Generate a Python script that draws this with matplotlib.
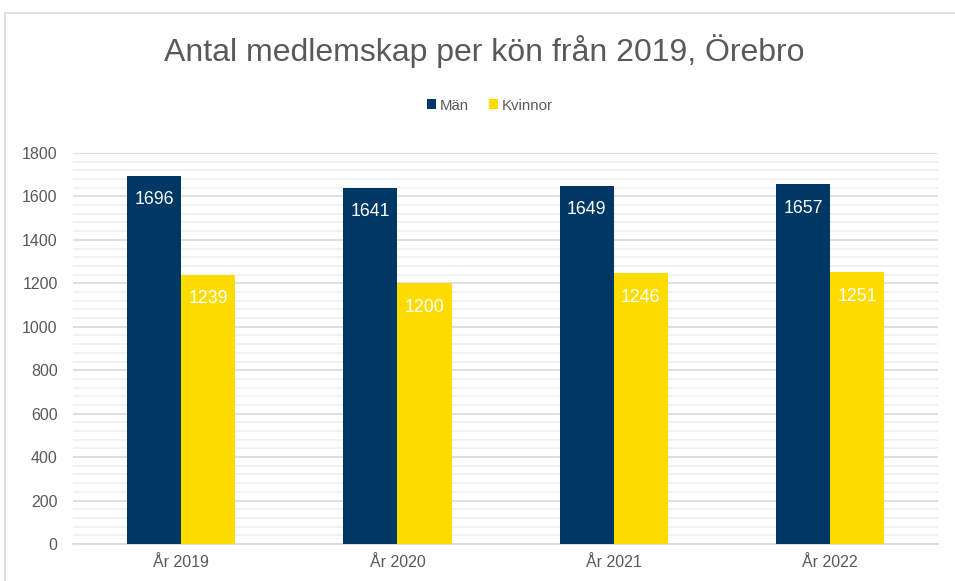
import matplotlib.pyplot as plt
import numpy as np
from matplotlib.patches import Rectangle
from matplotlib.ticker import MultipleLocator

plt.rcParams["font.family"] = ["Liberation Sans", "DejaVu Sans"]

years = ["År 2019", "År 2020", "År 2021", "År 2022"]
man = [1696, 1641, 1649, 1657]
kvinnor = [1239, 1200, 1246, 1251]

MAN_COLOR = "#003865"
KVINNOR_COLOR = "#FFDC00"
TEXT = "#595959"
MAJOR_GRID = "#d9d9d9"
MINOR_GRID = "#f0f0f0"

fig = plt.figure(figsize=(9.55, 5.81), dpi=100)
ax = fig.add_axes([0.0764, 0.0637, 0.906, 0.673])

x = np.arange(len(years))
w = 0.25
b1 = ax.bar(x - w / 2, man, w, color=MAN_COLOR, label="Män", zorder=3)
b2 = ax.bar(x + w / 2, kvinnor, w, color=KVINNOR_COLOR, label="Kvinnor", zorder=3)

# value labels just inside the top of each bar
for bars in (b1, b2):
    for bar in bars:
        ax.annotate(f"{int(bar.get_height())}",
                    (bar.get_x() + bar.get_width() / 2, bar.get_height()),
                    xytext=(0, -24), textcoords="offset pixels",
                    ha="center", va="center", color="white", fontsize=12.8, zorder=4)

ax.set_xlim(-0.5, len(years) - 0.5)
ax.set_ylim(0, 1800)
ax.yaxis.set_major_locator(MultipleLocator(200))
ax.yaxis.set_minor_locator(MultipleLocator(40))
ax.grid(axis="y", which="major", color=MAJOR_GRID, linewidth=1.2, zorder=1)
ax.grid(axis="y", which="minor", color=MINOR_GRID, linewidth=1.2, zorder=0)
ax.set_xticks(x)
ax.set_xticklabels(years)
ax.tick_params(axis="both", which="both", length=0, colors=TEXT, labelsize=11.5)
ax.tick_params(axis="x", pad=8)
ax.tick_params(axis="y", pad=11)
for s in ("top", "right", "left"):
    ax.spines[s].set_visible(False)
ax.spines["bottom"].set_color(MAJOR_GRID)
ax.spines["bottom"].set_linewidth(1.2)

fig.text(0.507, 0.912, "Antal medlemskap per kön från 2019, Örebro",
         ha="center", va="center", fontsize=23, color=TEXT)

leg = fig.legend(loc="center", bbox_to_anchor=(0.513, 0.818), ncol=2, frameon=False,
                 fontsize=10.8, handlelength=0.65, handleheight=0.65,
                 handletextpad=0.25, columnspacing=1.3)
for t in leg.get_texts():
    t.set_color(TEXT)

# light chart frame, cut off at the right and bottom like the reference
fig.patches.append(Rectangle((5 / 955, -0.1), 1.1, 1 - 13 / 581 + 0.1,
                             transform=fig.transFigure, fill=False,
                             edgecolor=MAJOR_GRID, linewidth=1.2))

fig.savefig("out.png", dpi=100, facecolor="white")
